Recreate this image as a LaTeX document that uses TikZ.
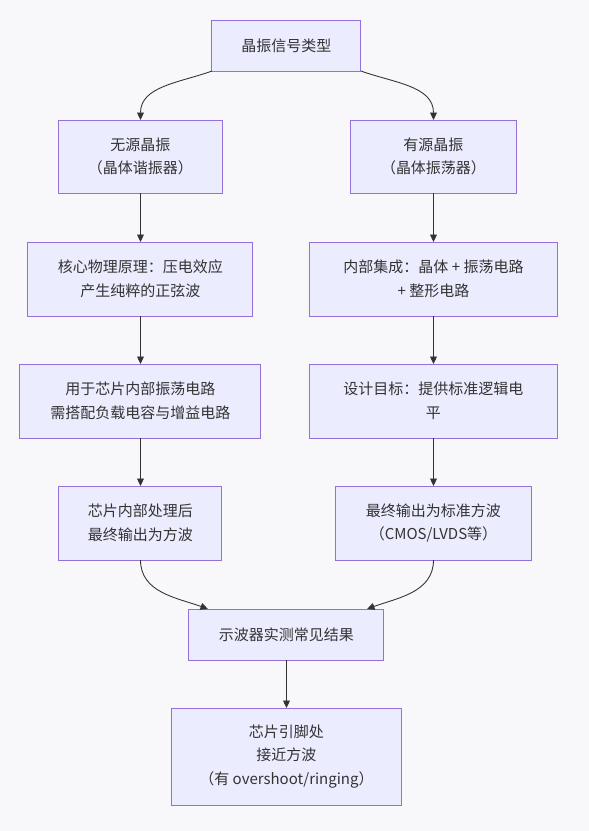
\documentclass[tikz,border=0pt]{standalone}
\usepackage{fontspec}
\newfontfamily\cjk{Noto Sans CJK SC}
\usetikzlibrary{positioning, arrows.meta, calc}
\definecolor{boxfill}{HTML}{ECECFF}
\definecolor{boxline}{HTML}{9370DB}
\definecolor{textgray}{HTML}{333333}
\definecolor{bgcolor}{HTML}{F8F8FA}
\tikzset{>={Triangle[length=6pt,width=5.5pt]}}
\tikzstyle{box}=[draw=boxline, fill=boxfill, line width=0.8pt, text=textgray, font=\cjk\fontsize{12}{18.8}\selectfont, align=center, inner sep=0, outer sep=0, minimum height=59.2pt]
\tikzstyle{connect}=[->, textgray, line width=0.7pt]

\begin{document}
\begin{tikzpicture}[node distance=39.2pt]
            \fill[bgcolor] (-229.2pt,36.4pt) rectangle (242pt,-628.4pt);

            \node[box, minimum width=119.2pt, minimum height=40.8pt] (type) {晶振信号类型};
            \node[box, minimum width=131.2pt, minimum height=58.4pt, below=of type, xshift=-116.8pt] (passive) {无源晶振\\（晶体谐振器）};
            \node[box, minimum width=132pt, minimum height=58.4pt, below=of type, xshift=117.6pt] (active) {有源晶振\\（晶体振荡器）};
            \node[box, minimum width=180pt, below=of passive] (piezo) {核心物理原理：压电效应\\产生纯粹的正弦波};
            \node[box, minimum width=198.4pt, below=of active] (integ) {内部集成：晶体 + 振荡电路\\+ 整形电路};
            \node[box, minimum width=192.8pt, below=38.4pt of piezo] (usage) {用于芯片内部振荡电路\\需搭配负载电容与增益电路};
            \node[box, minimum width=198.4pt, below=38.4pt of integ] (goal) {设计目标：提供标准逻辑电\\平};
            \node[box, minimum width=130.4pt, below=38.4pt of usage] (chipsq) {芯片内部处理后\\最终输出为方波};
            \node[box, minimum width=156pt, below=38.4pt of goal] (stdsq) {最终输出为标准方波\\（CMOS/LVDS等）};
            \node[box, minimum width=156pt, minimum height=40.8pt, below=of chipsq, xshift=116.8pt] (scope) {示波器实测常见结果};
            \node[box, minimum width=184pt, minimum height=77.6pt, below=38.4pt of scope] (pin) {芯片引脚处\\接近方波\\（有 overshoot/ringing）};

            \draw[connect] (type.south west) to[out=-160, in=90] (passive.north);
            \draw[connect] (type.south east) to[out=-20, in=90] (active.north);
            \draw[connect] (passive) -- (piezo);
            \draw[connect] (active) -- (integ);
            \draw[connect] (piezo) -- (usage);
            \draw[connect] (integ) -- (goal);
            \draw[connect] (usage) -- (chipsq);
            \draw[connect] (goal) -- (stdsq);
            \draw[connect] (chipsq.south) to[out=-90, in=160] ([xshift=15.2pt]scope.north west);
            \draw[connect] (stdsq.south) to[out=-90, in=20] ([xshift=-13.6pt]scope.north east);
            \draw[connect] (scope) -- (pin);

        \end{tikzpicture}
\end{document}
